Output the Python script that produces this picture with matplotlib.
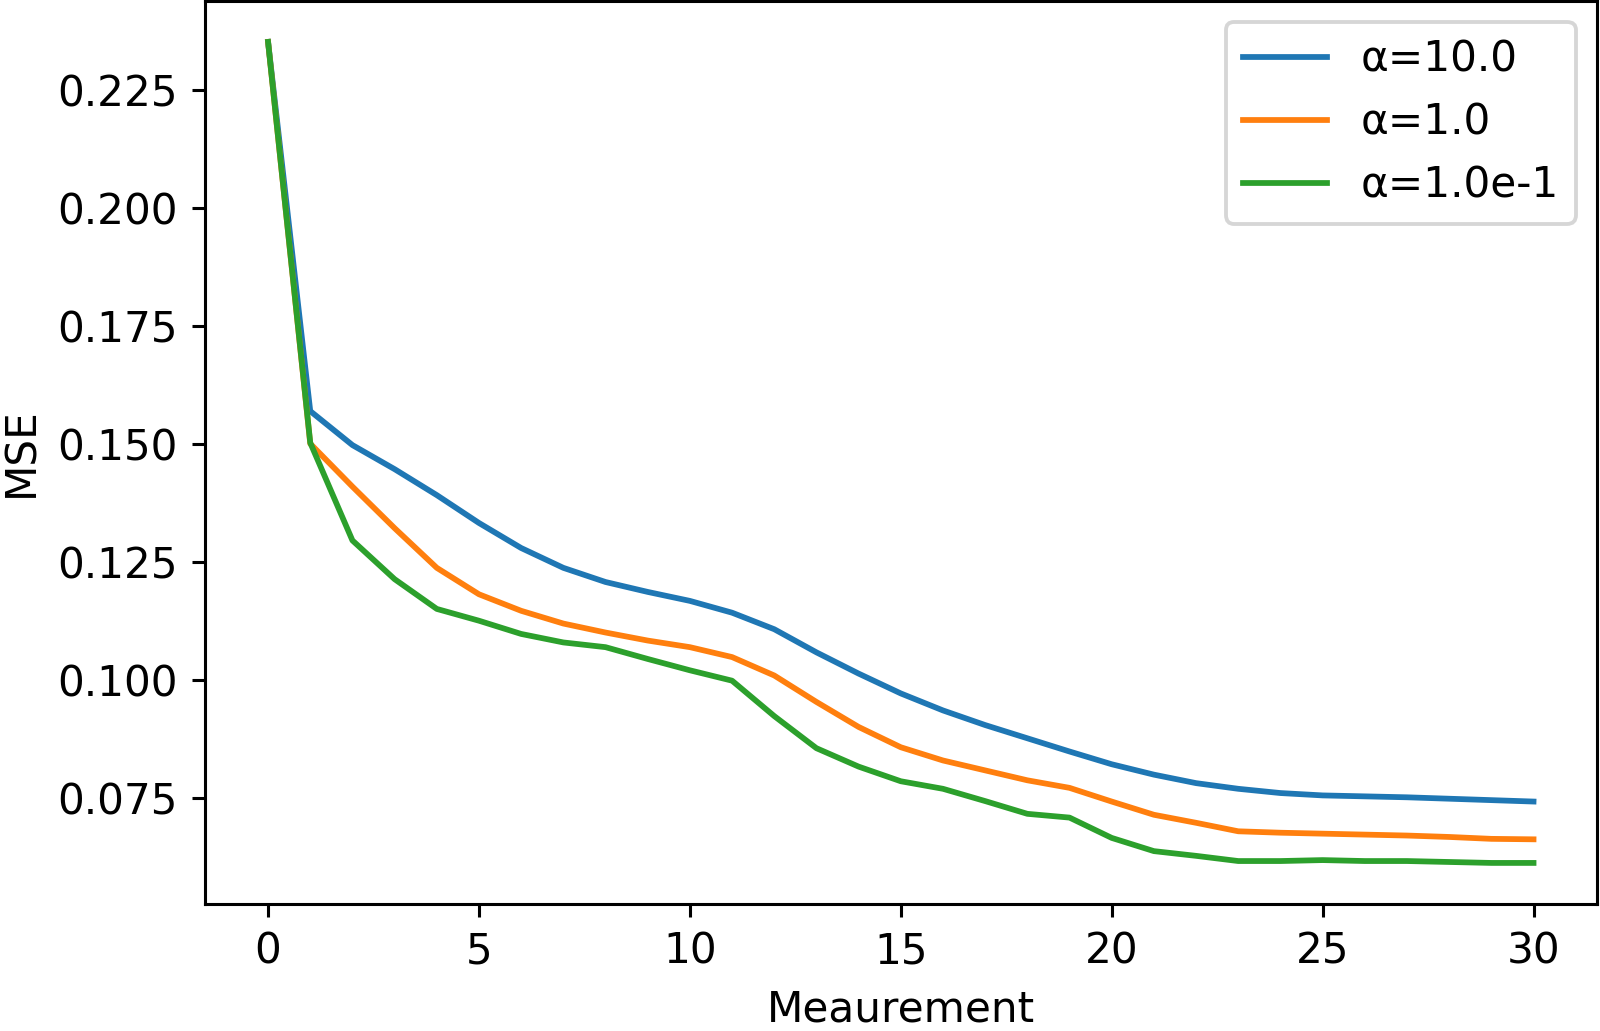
import matplotlib
matplotlib.use("Agg")
import matplotlib.pyplot as plt

# measurement index
steps = list(range(31))

mse_a10 = [0.2351, 0.1569, 0.1497, 0.1446, 0.1391, 0.1332, 0.1279, 0.1237, 0.1207, 0.1186,
           0.1167, 0.1142, 0.1107, 0.1058, 0.1013, 0.0971, 0.0935, 0.0904, 0.0876, 0.0848,
           0.0821, 0.0799, 0.0781, 0.0769, 0.0760, 0.0755, 0.0753, 0.0751, 0.0748, 0.0745,
           0.0742]
mse_a1 = [0.2351, 0.1500, 0.1409, 0.1321, 0.1237, 0.1181, 0.1146, 0.1119, 0.1100, 0.1083,
          0.1069, 0.1048, 0.1009, 0.0953, 0.0900, 0.0857, 0.0829, 0.0808, 0.0787, 0.0771,
          0.0742, 0.0714, 0.0697, 0.0679, 0.0676, 0.0674, 0.0672, 0.0670, 0.0667, 0.0663,
          0.0662]
mse_a01 = [0.2351, 0.1502, 0.1295, 0.1213, 0.1150, 0.1125, 0.1097, 0.1079, 0.1069, 0.1044,
           0.1020, 0.0998, 0.0923, 0.0855, 0.0816, 0.0785, 0.0769, 0.0743, 0.0716, 0.0708,
           0.0665, 0.0637, 0.0627, 0.0616, 0.0616, 0.0618, 0.0616, 0.0616, 0.0614, 0.0612,
           0.0612]

labels = ["α=10.0", "α=1.0", "α=1.0e-1"]

plt.rcParams['font.size'] = 11

dpi = 276
fig = plt.figure(figsize=(1600 / dpi, 1031 / dpi), dpi=dpi)
ax = fig.add_axes([0.128, 0.1232, 0.870, 0.876])

ax.plot(steps, mse_a10, label=labels[0])
ax.plot(steps, mse_a1, label=labels[1])
ax.plot(steps, mse_a01, label=labels[2])

ax.set_xlabel("Meaurement")
ax.set_ylabel("MSE")
ax.legend(loc="upper right")

fig.savefig("out.png", dpi=dpi)
